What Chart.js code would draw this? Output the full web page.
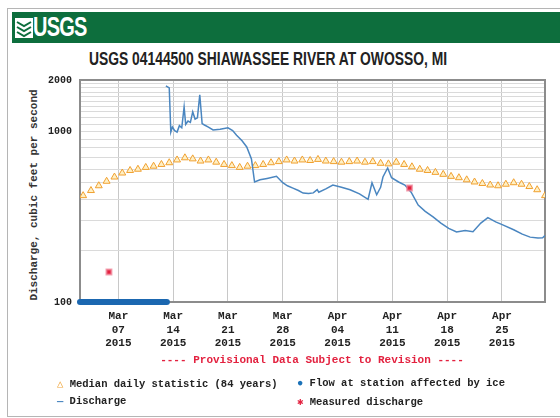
<!DOCTYPE html>
<html>
<head>
<meta charset="utf-8">
<script src="https://cdn.jsdelivr.net/npm/chart.js@4.4.1/dist/chart.umd.min.js"></script>
<style>
  body { margin: 0; background: #fff; }
  #wrap { position: relative; width: 560px; height: 418px; overflow: hidden; font-family: 'Liberation Mono', 'DejaVu Sans Mono', monospace; }
  #frame { position: absolute; left: 7px; top: 8px; width: 600px; height: 407px; border: 1px solid #b5b5b5; }
  #header { position: absolute; left: 12px; top: 12px; width: 560px; height: 31px; background: #0d6e3d; }
  #logo { position: absolute; left: 3px; top: 3px; height: 25px; display: flex; align-items: center; }
  #logo span { display: inline-block; color: #fff; font-family: 'Liberation Sans', sans-serif; font-weight: bold; font-size: 27px; letter-spacing: -1px; transform: scaleX(0.74); transform-origin: left center; }
  #title { position: absolute; left: 0; width: 536px; top: 49px; text-align: center; font-family: 'Liberation Sans', sans-serif; font-weight: bold; font-size: 18px; color: #222; transform: scaleX(0.77); transform-origin: center; white-space: nowrap; }
  #ytitle { position: absolute; left: 34px; top: 195px; transform: translate(-50%, -50%) rotate(-90deg); white-space: nowrap; font-size: 11px; font-weight: bold; color: #333; }
  #prov { position: absolute; left: 0; width: 624px; top: 354px; text-align: center; font-size: 11px; font-weight: bold; color: #e3213f; white-space: pre; }
  .leg { position: absolute; font-size: 10.5px; font-weight: bold; color: #222; white-space: pre; }
  canvas { position: absolute; left: 0; top: 0; }
</style>
</head>
<body>
<div id="wrap">
  <div id="frame"></div>
  <div id="header">
    <div id="logo">
      <svg width="18" height="20" viewBox="0 0 18 20">
        <rect x="0" y="0" width="18" height="20" fill="#fff"/>
        <path d="M2 4 L9 8 L16 4 M2 9 L9 13 L16 9 M2 14 L9 18 L16 14" stroke="#0d6e3d" stroke-width="2" fill="none"/>
      </svg>
      <span>USGS</span>
    </div>
  </div>
  <div id="title">USGS 04144500 SHIAWASSEE RIVER AT OWOSSO, MI</div>
  <div id="ytitle">Discharge, cubic feet per second</div>
  <canvas id="chart" width="560" height="418"></canvas>
  <div id="prov">---- Provisional Data Subject to Revision ----</div>
  <div class="leg" style="left:57px; top:377px;"><span style="color:#f0a53a;">&#9651;</span> Median daily statistic (84 years)</div>
  <div class="leg" style="left:297px; top:377px;"><span style="color:#1b72b8;">&#9679;</span> Flow at station affected by ice</div>
  <div class="leg" style="left:57px; top:395px;"><span style="color:#4a86c0;">&#8212;</span> Discharge</div>
  <div class="leg" style="left:297px; top:395px;"><span style="color:#e3213f;">&#10033;</span> Measured discharge</div>
</div>

<script>
// Days counted from Mar 1 2015 (Mar 1 = 0)
const xMinDay = 1.1;
const xMaxDay = 60.5;
const xTickDays = [6, 13, 20, 27, 34, 41, 48, 55];
const xTickLabels = [
    ['Mar', '07', '2015'], ['Mar', '14', '2015'], ['Mar', '21', '2015'], ['Mar', '28', '2015'],
    ['Apr', '04', '2015'], ['Apr', '11', '2015'], ['Apr', '18', '2015'], ['Apr', '25', '2015']
];

const yGridValues = [100, 200, 300, 400, 500, 600, 700, 800, 900, 1000,
    1100, 1200, 1300, 1400, 1500, 1600, 1700, 1800, 1900, 2000];
const yLabelValues = [100, 1000, 2000];

// Median daily statistic, one value per day starting Mar 2 (noon)
const medianFirstDay = 1.5;
const medianValues = [
    420, 450, 480, 510, 540, 570, 590, 600, 615, 625,
    640, 655, 680, 700, 690, 670, 680, 660, 640, 630,
    615, 625, 630, 640, 655, 665, 680, 670, 680, 675,
    685, 670, 665, 660, 665, 670, 660, 665, 650, 645,
    660, 640, 620, 600, 590, 575, 560, 545, 535, 520,
    505, 495, 485, 480, 490, 500, 490, 475, 455, 420
];

// Discharge
const dischargeDays = [
    12.07, 12.5, 12.7, 12.9, 13.2, 13.5, 13.8, 14.1, 14.4, 14.6,
    14.9, 15.2, 15.5, 15.8, 16.1, 16.4, 16.7, 17.0, 17.5, 18.1,
    19.0, 20.0, 20.6, 21.1, 21.8, 22.4, 23.0, 23.4, 24.1, 25.0,
    26.2, 27.0, 27.6, 28.3, 29.0, 29.6, 30.3, 30.9, 31.4, 31.6,
    32.5, 33.4, 34.5, 35.6, 36.8, 37.9, 38.4, 39.0, 39.5, 39.8,
    40.4, 40.9, 41.8, 42.6, 43.4, 44.3, 45.2, 46.2, 47.2, 48.2,
    49.2, 50.3, 51.3, 52.3, 53.2, 54.2, 55.1, 56.5, 57.6, 58.6,
    59.6, 60.2, 60.5
];
const dischargeValues = [
    1850, 1800, 990, 1060, 1010, 990, 1080, 1050, 1390, 1100,
    1150, 1130, 1300, 1180, 1200, 1640, 1110, 1090, 1060, 1020,
    1030, 1050, 1010, 950, 880, 810, 690, 505, 520, 530,
    545, 500, 480, 465, 450, 435, 432, 436, 455, 440,
    460, 485, 470, 455, 430, 400, 500, 425, 470, 540,
    610, 535, 505, 485, 440, 370, 340, 315, 290, 270,
    257, 262, 258, 290, 312, 295, 283, 265, 250, 240,
    237, 238, 245
];

// Flow at station affected by ice (plotted at the axis floor)
const iceDays = [1.1, 12.2];
const iceValues = [100, 100];

// Measured discharge
const measuredDays = [4.8, 43.2];
const measuredValues = [150, 466];

function toPoints(xs, ys) {
    return ys.map((y, i) => ({ x: xs[i], y: y }));
}

const medianPoints = medianValues.map((v, i) => ({ x: medianFirstDay + i, y: v }));

// Draw the plot frame before the data so the ice band sits on top of it
const plotBorder = {
    id: 'plotBorder',
    beforeDatasetsDraw(chart) {
        const { ctx, chartArea: a } = chart;
        ctx.save();
        ctx.strokeStyle = '#8c8c8c';
        ctx.lineWidth = 2;
        ctx.strokeRect(a.left, a.top, a.right - a.left, a.bottom - a.top);
        ctx.restore();
    }
};

const monoFont = { family: "'Liberation Mono', 'DejaVu Sans Mono', monospace", weight: 'bold' };

new Chart(document.getElementById('chart').getContext('2d'), {
    type: 'line',
    data: {
        datasets: [
            {
                label: 'Measured discharge',
                data: toPoints(measuredDays, measuredValues),
                showLine: false,
                pointStyle: 'rect',
                pointRadius: 3.5,
                backgroundColor: '#e3213f',
                borderColor: 'rgba(240, 130, 150, 0.7)',
                borderWidth: 2
            },
            {
                label: 'Flow at station affected by ice',
                data: toPoints(iceDays, iceValues),
                borderColor: '#1b67b0',
                borderWidth: 6,
                borderCapStyle: 'round',
                pointRadius: 0,
                clip: false
            },
            {
                label: 'Discharge',
                data: toPoints(dischargeDays, dischargeValues),
                borderColor: '#4a86c0',
                borderWidth: 1.5,
                pointRadius: 0,
                tension: 0
            },
            {
                label: 'Median daily statistic (84 years)',
                data: medianPoints,
                showLine: false,
                pointStyle: 'triangle',
                pointRadius: 4,
                borderColor: '#f0a030',
                backgroundColor: '#fff0c4',
                borderWidth: 1
            }
        ]
    },
    options: {
        responsive: false,
        animation: false,
        layout: { padding: { top: 80, right: 15, left: 0, bottom: 0 } },
        plugins: {
            legend: { display: false },
            tooltip: { enabled: false }
        },
        scales: {
            x: {
                type: 'linear',
                min: xMinDay,
                max: xMaxDay,
                afterBuildTicks: scale => { scale.ticks = xTickDays.map(v => ({ value: v })); },
                afterFit: scale => { scale.height = 116; },
                grid: { color: '#c8c8c8', drawTicks: false },
                border: { display: false },
                ticks: {
                    autoSkip: false,
                    maxRotation: 0,
                    padding: 8,
                    color: '#222',
                    font: Object.assign({ size: 11, lineHeight: 1.2 }, monoFont),
                    callback: value => xTickLabels[xTickDays.indexOf(value)] || ''
                }
            },
            y: {
                type: 'logarithmic',
                min: 100,
                max: 2000,
                afterBuildTicks: scale => { scale.ticks = yGridValues.map(v => ({ value: v })); },
                afterFit: scale => { scale.width = 80; },
                grid: { color: '#dadada', drawTicks: false },
                border: { display: false },
                ticks: {
                    autoSkip: false,
                    padding: 8,
                    color: '#222',
                    font: Object.assign({ size: 10 }, monoFont),
                    callback: value => yLabelValues.includes(value) ? String(value) : ''
                }
            }
        }
    },
    plugins: [plotBorder]
});
</script>
</body>
</html>
